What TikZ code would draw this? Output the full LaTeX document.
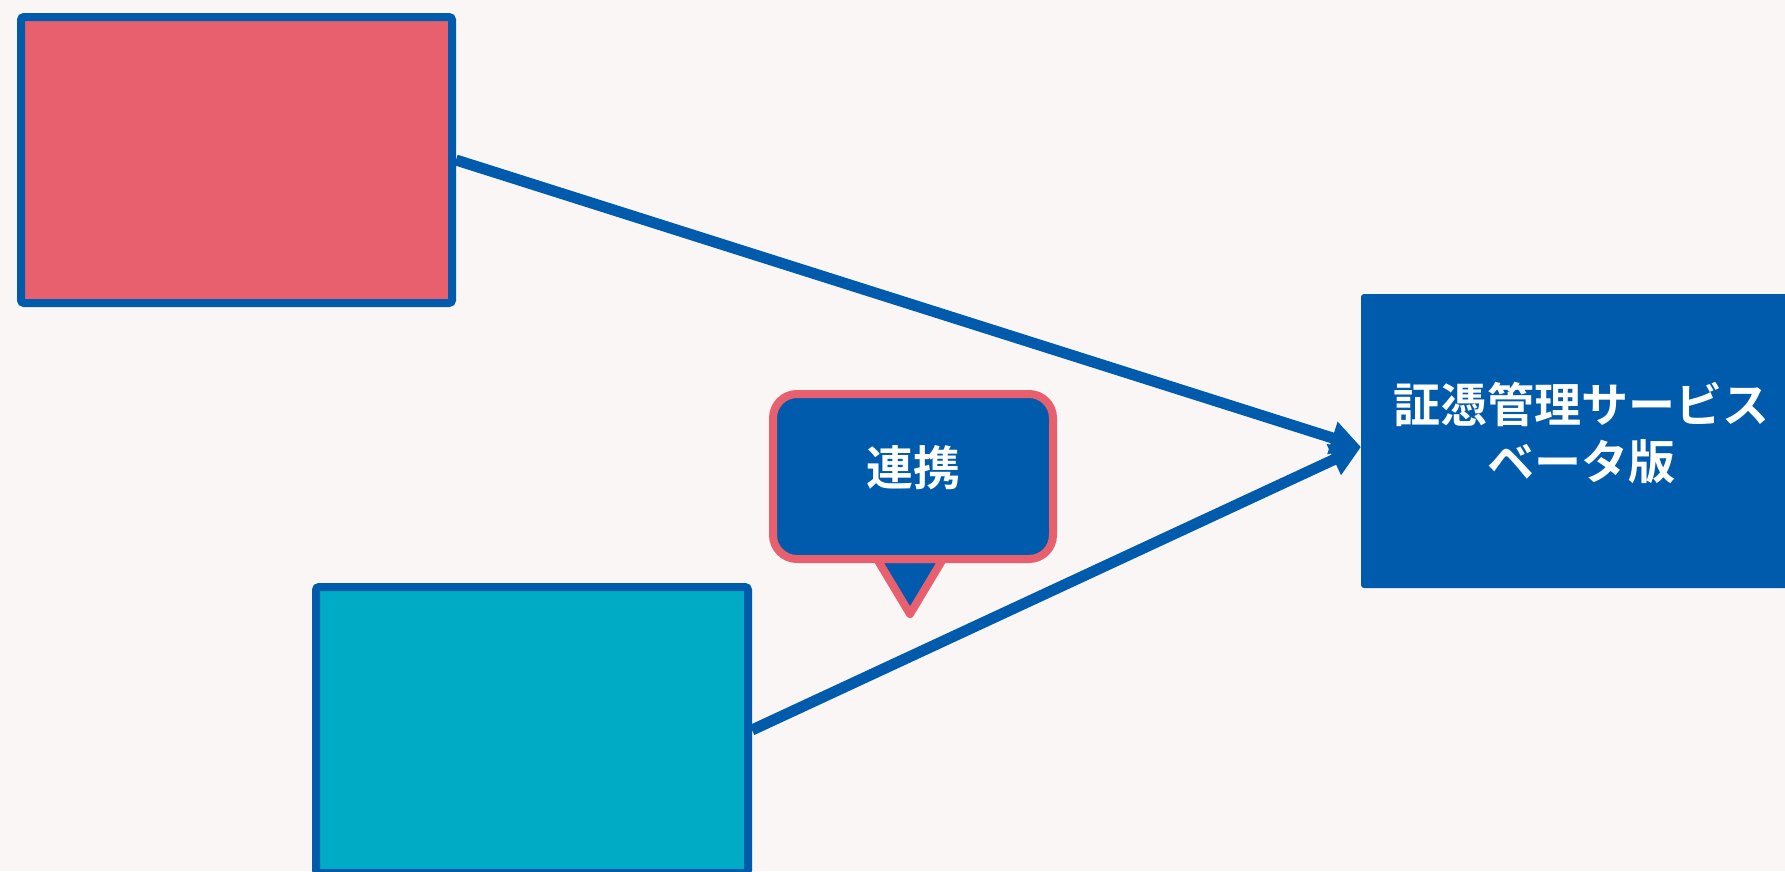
\documentclass[tikz,border=0pt]{standalone}
\usepackage{fontspec}
\newfontfamily\jpb{Noto Sans CJK JP Bold}
\usetikzlibrary{arrows.meta}
\definecolor{bg}{HTML}{F9F6F5}
\definecolor{mblue}{HTML}{005BAC}
\definecolor{mred}{HTML}{E8606E}
\definecolor{mteal}{HTML}{00ABC5}
\tikzset{
  sbox/.style={draw=mblue, line width=8pt, rounded corners=3pt, inner sep=0pt},
  conn/.style={draw=mblue, line width=11pt, -{Triangle[length=30pt,width=32pt]}},
  jtext/.style={text=white, font=\jpb\fontsize{47}{57}\selectfont, align=center},
}
\begin{document}
\begin{tikzpicture}[x=1pt,y=-1pt]
\useasboundingbox (0,0) rectangle (1785,871);
\fill[bg] (0,0) rectangle (1785,871);
\node[sbox, fill=mred, minimum width=431pt, minimum height=286pt] (src1) at (236.5,160) {};
\node[sbox, fill=mteal, minimum width=432pt, minimum height=286pt] (src2) at (532,730) {};
\node[fill=mblue, rounded corners=3pt, minimum width=440pt, minimum height=294pt, inner sep=0pt] (svc) at (1581,441) {};
\node[jtext] (svclabel) at (1581,433) {証憑管理サービス\\ベータ版};
\coordinate (tip) at (1361,447);
\draw[conn] (src1.east) -- (tip);
\draw[conn] (src2.east) -- (tip);
% callout
\draw[draw=mred, fill=mblue, line width=8pt, line join=round] (877,559) -- (943,559) -- (910,614) -- cycle;
\node[draw=mred, fill=mblue, line width=8pt, rounded corners=24pt, minimum width=280pt, minimum height=165pt, inner sep=0pt] (callout) at (913,476.5) {};
\node[jtext] (calloutlabel) at (913,468) {連携};
\end{tikzpicture}
\end{document}
